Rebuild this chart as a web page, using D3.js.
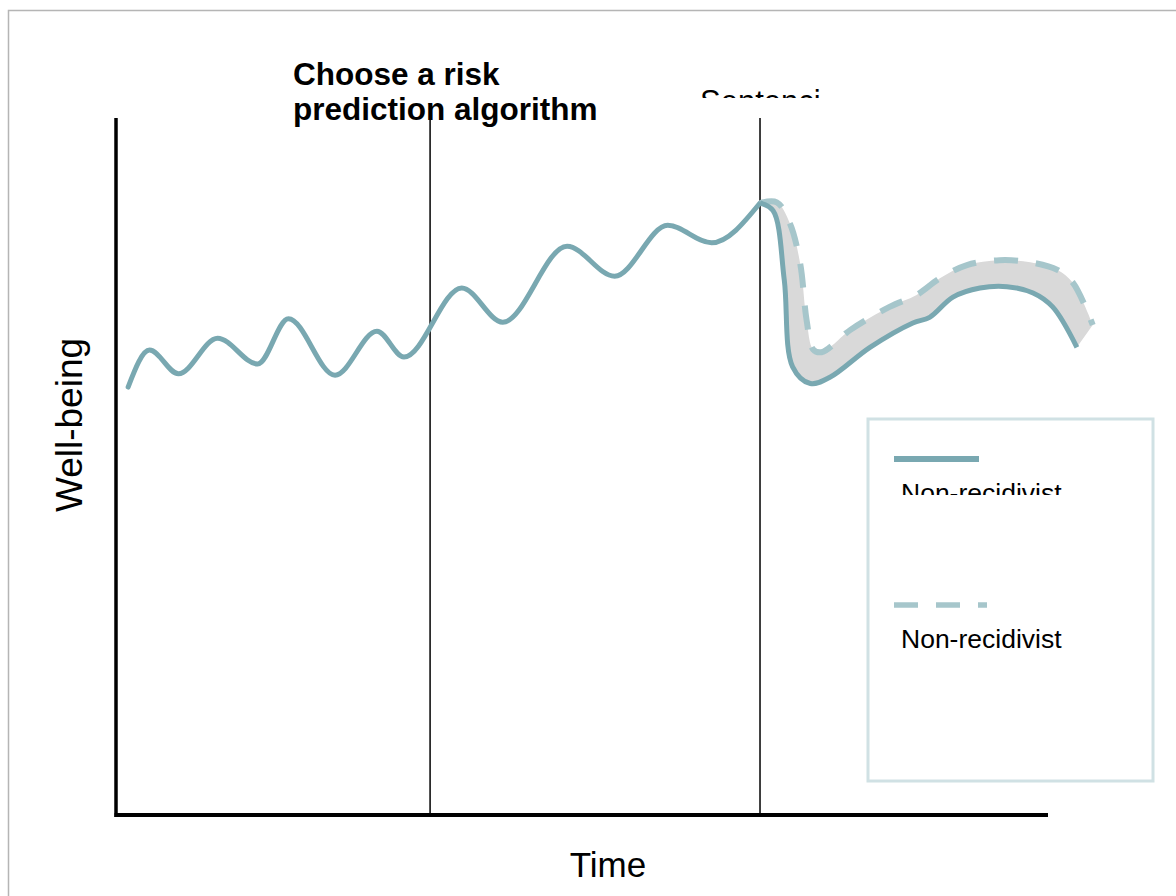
<!DOCTYPE html>
<html>
<head>
<meta charset="utf-8">
<script src="https://cdn.jsdelivr.net/npm/d3@7"></script>
<style>
  body { margin: 0; background: #fff; }
  svg { display: block; font-family: "Liberation Sans", Arial, sans-serif; }
</style>
</head>
<body>
<svg id="chart" width="1176" height="896"></svg>
<script>
// well-being over time (time 0-100, well-being 0-100)
const pastTime = [1.3, 3.6, 6.7, 10.9, 15.2, 18.5, 23.5, 28.0, 30.9, 37.1, 41.5, 48.4, 53.5, 59.2, 63.9, 69.1];
const pastWell = [61.4, 66.7, 63.3, 68.4, 64.7, 71.2, 63.1, 69.4, 65.7, 75.6, 70.7, 81.6, 77.3, 84.6, 82.1, 87.8];

const solidTime = [69.1, 70.5, 71.7, 72.6, 74.5, 76.6, 80.9, 85.5, 87.3, 89.8, 92.7, 95.6, 98.4, 100.5, 103.1];
const solidWell = [87.8, 86.7, 76.8, 64.3, 61.9, 62.8, 67.1, 70.6, 71.4, 74.3, 75.6, 75.8, 74.9, 72.9, 67.1];

const dashTime = [69.1, 70.9, 72.3, 73.4, 74.1, 74.8, 75.7, 78.8, 83.0, 85.9, 88.4, 91.3, 94.8, 98.1, 101.0, 102.7, 104.8];
const dashWell = [87.8, 87.9, 84.9, 79.2, 71.0, 66.8, 66.4, 69.6, 72.9, 74.6, 77.0, 78.9, 79.6, 79.3, 78.2, 76.3, 70.3];

// decision points on the time axis
const stageTimes = [33.7, 69.1];

const legendLabels = ["Non-recidivist", "Non-recidivist"];

const solidColor = "#79a8b1";
const dashColor = "#a6c6cb";

const svg = d3.select("#chart");

const x = d3.scaleLinear().domain([0, 100]).range([116, 1048]);
const y = d3.scaleLinear().domain([0, 100]).range([815, 118]);

// outer frame
svg.append("rect")
  .attr("x", 8.5).attr("y", 10.5)
  .attr("width", 1300).attr("height", 1000)
  .attr("fill", "none")
  .attr("stroke", "#b5b5b5")
  .attr("stroke-width", 1.5);

const defs = svg.append("defs");
defs.append("clipPath").attr("id", "clipTop")
  .append("rect").attr("x", 600).attr("y", 0).attr("width", 300).attr("height", 98);
defs.append("clipPath").attr("id", "clipLegend")
  .append("rect").attr("x", 870).attr("y", 470).attr("width", 280).attr("height", 25);

const zip = (ts, ws) => ts.map((t, i) => ({ t: t, w: ws[i] }));
const past = zip(pastTime, pastWell);
const solid = zip(solidTime, solidWell);
const dashed = zip(dashTime, dashWell);

const line = d3.line()
  .x(d => x(d.t))
  .y(d => y(d.w))
  .curve(d3.curveMonotoneX);

const smooth = d3.line()
  .x(d => x(d.t))
  .y(d => y(d.w))
  .curve(d3.curveCatmullRom.alpha(0.5));

// shaded band between the two futures
const upper = smooth(dashed);
const lower = smooth(solid.slice().reverse());
svg.append("path")
  .attr("d", upper + "L" + lower.slice(1) + "Z")
  .attr("fill", "#d9d9d9");

// vertical stage lines
svg.selectAll(".stage")
  .data(stageTimes)
  .enter()
  .append("line")
  .attr("class", "stage")
  .attr("x1", d => x(d)).attr("x2", d => x(d))
  .attr("y1", y(100)).attr("y2", y(0))
  .attr("stroke", "#000")
  .attr("stroke-width", 1.5);

svg.append("path")
  .attr("d", line(past))
  .attr("fill", "none")
  .attr("stroke", solidColor)
  .attr("stroke-width", 5)
  .attr("stroke-linecap", "round");

svg.append("path")
  .attr("d", smooth(dashed))
  .attr("fill", "none")
  .attr("stroke", dashColor)
  .attr("stroke-width", 6)
  .attr("stroke-dasharray", "24,18");

svg.append("path")
  .attr("d", smooth(solid))
  .attr("fill", "none")
  .attr("stroke", solidColor)
  .attr("stroke-width", 5);

// axes (plain lines, no ticks)
svg.append("line")
  .attr("x1", x(0)).attr("x2", x(0))
  .attr("y1", y(100)).attr("y2", y(0) + 2)
  .attr("stroke", "#000").attr("stroke-width", 3.5);
svg.append("line")
  .attr("x1", x(0) - 1.5).attr("x2", x(100))
  .attr("y1", y(0)).attr("y2", y(0))
  .attr("stroke", "#000").attr("stroke-width", 4);

svg.append("text")
  .attr("x", 608).attr("y", 877)
  .attr("text-anchor", "middle")
  .attr("font-size", 35)
  .text("Time");

svg.append("text")
  .attr("transform", "translate(82,425) rotate(-90)")
  .attr("text-anchor", "middle")
  .attr("font-size", 37)
  .text("Well-being");

// stage headings
const title = svg.append("text")
  .attr("x", 293).attr("y", 85)
  .attr("font-size", 31.5)
  .attr("font-weight", "bold");
title.append("tspan").attr("x", 293).attr("y", 85).text("Choose a risk");
title.append("tspan").attr("x", 293).attr("y", 120).text("prediction algorithm");

svg.append("text")
  .attr("x", 700).attr("y", 112)
  .attr("font-size", 31)
  .attr("clip-path", "url(#clipTop)")
  .text("Sentenci");

// legend
svg.append("rect")
  .attr("x", 868).attr("y", 419)
  .attr("width", 285).attr("height", 362)
  .attr("fill", "#fff")
  .attr("stroke", "#d0e1e4")
  .attr("stroke-width", 3);

svg.append("line")
  .attr("x1", 894).attr("x2", 979)
  .attr("y1", 459).attr("y2", 459)
  .attr("stroke", solidColor).attr("stroke-width", 6);

svg.append("line")
  .attr("x1", 894).attr("x2", 987)
  .attr("y1", 605).attr("y2", 605)
  .attr("stroke", dashColor).attr("stroke-width", 5.5)
  .attr("stroke-dasharray", "24,18");

svg.append("text")
  .attr("x", 901).attr("y", 502)
  .attr("font-size", 26.5)
  .attr("clip-path", "url(#clipLegend)")
  .text(legendLabels[0]);

svg.append("text")
  .attr("x", 901).attr("y", 648)
  .attr("font-size", 26.5)
  .text(legendLabels[1]);
</script>
</body>
</html>
